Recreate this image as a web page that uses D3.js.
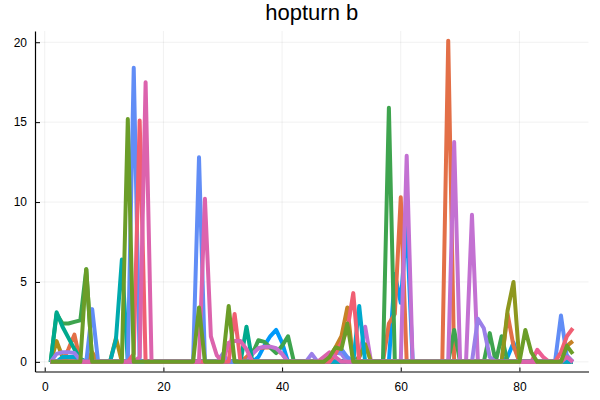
<!DOCTYPE html>
<html>
<head>
<meta charset="utf-8">
<script src="https://cdn.jsdelivr.net/npm/d3@7"></script>
<style>
  body { margin: 0; background: #fff; }
  svg { display: block; font-family: "Liberation Sans", Arial, sans-serif; }
</style>
</head>
<body>
<svg id="chart" width="600" height="400"></svg>
<script>
// x positions (1..89)
const xs = [1,2,3,4,5,6,7,8,9,10,11,12,13,14,15,16,17,18,19,20,21,22,23,24,25,26,27,28,29,30,
  31,32,33,34,35,36,37,38,39,40,41,42,43,44,45,46,47,48,49,50,51,52,53,54,55,56,57,58,59,60,
  61,62,63,64,65,66,67,68,69,70,71,72,73,74,75,76,77,78,79,80,81,82,83,84,85,86,87,88,89]

// one array per series (groups of 10 points)
const y1 = [0,0,0,0,0,0,0,0,0,0, 0,0,0,0,0,0,0,0,0,0, 0,0,0,0,0,0,0,0,0,0,
  0,0,0,0,0,0.3,1.0,1.6,2.0,1.2, 0,0,0,0,0,0,0,0,0,0, 0,0,0,0,0,0,0,0,5.5,3.7,
  8.7,0,0,0,0,0,0,0,0,0, 0,0,0,0,0,0,0,0.3,1.2,0, 0,0,0,0,0,0,0,0,0]
const y2 = [0,0,0,0.8,1.7,0,0,0,0,0, 0,0,0,0,0,0,0,0,0,0, 0,0,0,0,0,0,0,0,0,0,
  0,0,0,0.3,0.7,0.85,0.9,0.9,0.8,0.5, 0,0,0,0,0,0,0,0,0,0, 0,0,0,0,0,0,0,2.4,3.0,10.3,
  0,0,0,0,0,0,0,20.1,0,0, 0,0,0,0,0,0,0,3.0,1.0,0, 0,0,0,0,0,0,0,0,0]
const y3 = [0,3.0,2.4,2.4,2.5,2.6,5.8,0,0,0, 0,0,0,0,0,0,0,0,0,0, 0,0,0,0,0,0,0,0,0,0,
  0,0,0,0,0.5,1.35,1.25,0.9,0.55,1.0, 1.6,0,0,0,0,0,0,0,0,0, 0,0,0,0,0,0,0,15.9,0,0,
  0,0,0,0,0,0,0,0,2.0,0, 0,0,0,0,1.8,0,1.6,0,0,0, 0,0,0,0,0,0,0,0,0]
const y4 = [0,0,0,0,0,0,0,0,0,0, 0,0,0,0,0,0,0,0,0,0, 0,0,0,0,0,0,0,0,0,0,
  0,0,0,0,0.5,0.85,0.95,0.95,0.85,0.5, 0,0,0,0,0,0,0,0,0,0, 0,0,0.3,2.2,0,0,0,0,0,0,
  12.9,0,0,0,0,0,0,0,13.75,0, 0,9.2,0,0,0,0,0,0,0,0, 0,0,0,0,0,0,0,0,0]
const y5 = [0,1.3,0.3,0,0,0,0,0,0,0, 0,1.5,0,0,0,0,0,0,0,0, 0,0,0,0,0,0,0,0,0,0,
  0,0,0,0,0,0,0,0,0,0, 0,0,0,0,0,0,0,0,0,0, 0,0,0,0,0,0,0,0,0,0,
  0,0,0,0,0,0,0,0,0,0, 0,0,0,0,0,0,0,0,0,0, 0,0,0,0,0,0,0,0,0]
const y6 = [0,0,0,0,0,0,0,0,0,0, 0,1.4,6.4,0,0,0,0,0,0,0, 0,0,0,0,0,0,0,0,0,0,
  0,0,0,0,0,0,0,0,0,0, 0,0,0,0,0,0,0,0,0,0, 0,0,0,0,0,0,0,0,0,0,
  0,0,0,0,0,0,0,0,0,0, 0,0,0,0,0,0,0,0,0,0, 0,0,0,0,0,0,0,0,0]
const y7 = [0,0,0,0,0,0,0,0,0,0, 0,0,0,0,0,0,0,0,0,0, 0,0,0,0,0,0,0,0,0,0,
  0,0,0,0,0,0,0,0,0,0, 0,0,0,0,0,0,0,0,0,0, 0,0,0,0,0,0,0,0,0,0,
  0,0,0,0,0,0,0,0,0,0, 0,0,0,0,0,0,0,0,0,0, 0,0,0.75,0.3,0,0,0,0,0]
const y8 = [0,0,0,0,0,0,0,0.6,0,0, 0,0,0,0,0,0,0,0,0,0, 0,0,0,0,0,0,0,0,0,0,
  0,0,0,0,0,0,0,0,0,0, 0,0,0,0,0,0,0,0.3,0.9,1.6, 3.4,0,0,0,0,0,0,0,0,0,
  0,0,0,0,0,0,0,0,0,0, 0,0,0,0,0,0,0,0,0,0, 0,0,0,0,0,0,0,1.0,1.3]
const y9 = [0,3.1,2.2,1.5,0.8,0.2,0,0,0,0, 0,0,0,0,0,0,0,0,0,0, 0,0,0,0,0,0,0,0,0,0,
  0,0,0,2.2,0,0,0,0,0,0, 0,0,0,0,0,0,0,0,0,0, 0,0,0,0,0,0,0,0,0,0,
  0,0,0,0,0,0,0,0,0,0, 0,0,0,0,0,0,0,0,0,0, 0,0,0,0,0,0,0,0,0]
const y10 = [0,0,0,0,0,0,0,0,0,0, 0,0,0,0,0,0,0,0,0,0, 0,0,0,0,0,0,0,0,0,0,
  0,0,0,0,0,0,0,0,0,0, 0,0,0,0,0,0,0,0,0,0, 0,0,0.3,1.1,0,0,0,0,0,0,
  0,0,0,0,0,0,0,0,0,0, 0,0,0,0,0,0,0,3.2,5.0,0, 0,0,0,0,0,0,0,0,0]
const y11 = [0,0,0.3,0.3,0.3,0,0,0,0,0, 0,0,0,0,0,0,0,0,0,0, 0,0,0,0,0,0,0,0,0,0,
  0,0,0,0,0,0,0,0,0,0, 0,0,0,0,0,0,0,0,0,0, 0,0,3.5,0,0,0,0,0,0,0,
  0,0,0,0,0,0,0,0,0,0, 0,0,0,0,0,0,0,0,0,0, 0,0,0,0,0,0,0,0,0]
const y12 = [0,0.5,0.6,0.6,0.55,0.1,0,0,0,0, 0,0,0,0,0,0,0,0,0,0, 0,0,0,0,0,0,0,0,0,0.5,
  0,0,0,0,0,0,0,0,0,0, 0,0,0,0,0.5,0,0,0.3,0.6,0.5, 0,0,0,0,0,0,0,0,0,0,
  0,0,0,0,0,0,0,0,0,0, 0,0,2.7,2.1,0.3,0,0,0,0,0, 0,0,0,0,0,0,0,0.4,0]
const y13 = [0,0,0,0,0,0,0,3.3,0,0, 0,0,0,0,18.4,0,0,0,0,0, 0,0,0,0,0,12.8,0,0,0,0,
  0,0,0,0,0,0,0,0,0,0, 0,0,0,0,0,0,0,0,0.5,0.8, 0.3,0,0,0,0,0,0,0,0,0,
  0,0,0,0,0,0,0,0,0,0, 0,0,0,0,0,0,0,0,0,0, 0,0,0,0,0,0,2.9,0.3,0]
const y14 = [0,0,0,0,0,0,0,0,0,0, 0,0,0,0,0.5,15.1,0,0,0,0, 0,0,0,0,0,0,0,0,0,0,
  0,3.0,0,0,0,0,0,0,0,0, 0,0,0,0,0,0,0,0,0.5,1.2, 2.0,4.3,0,0,0,0,0,0,0,0,
  0,0,0,0,0,0,0,0,0,0, 0,0,0,0,0,0,0,0,0,0, 0,0,0,0,0,0,0.6,1.6,2.1]
const y15 = [0,0,0,0,0,0,0,0,0,0, 0,0,0,0,0,0.3,17.5,0,0,0, 0,0,0,0,0,0,10.2,1.6,0.4,0,
  1.2,1.3,1.3,0.8,0,0,0,0,0,0, 0,0,0,0,0,0,0.3,0.6,0.3,0, 0,0,0,0,0,0,0,0,0,0,
  0,0,0,0,0,0,0,0,0,0, 0,0,0,0,0,0,0,0,0,0, 0,0,0,0,0,0,0,0.3,0]
const y16 = [0,0,0,0,0,0,5.8,0,0,0, 0,0,0,15.2,0,0,0,0,0,0, 0,0,0,0,0,3.4,0,0,0,0,
  3.5,0,0,0,0,0,0,0,0,0, 0,0,0,0,0,0,0,0.3,0.9,0.8, 2.4,0,0,0,0,0,0,0,0,0,
  0,0,0,0,0,0,0,0,0,0, 0,0,0,0,0,0,0,0,0,0, 2.0,0.6,0,0,0,0,0,1.0,0.5]

const seriesValues = [y1, y2, y3, y4, y5, y6, y7, y8, y9, y10, y11, y12, y13, y14, y15, y16]
const colors = ["#009AFA", "#E36F47", "#3EA44E", "#C371D2", "#AC8E18", "#00AAAE", "#ED5E93", "#C68225",
  "#00A98D", "#8E971E", "#00A9CD", "#9B7FE9", "#618DF6", "#F05F73", "#DC63AD", "#6B9D28"]
const xTicks = [0, 20, 40, 60, 80]
const yTicks = [0, 5, 10, 15, 20]
const title = "hopturn b"

const svg = d3.select("#chart")

// axis limits padded 3% like the original
const xExt = d3.extent(xs)
const xPad = (xExt[1] - xExt[0]) * 0.03
const yMax = d3.max(seriesValues, s => d3.max(s))
const yMin = d3.min(seriesValues, s => d3.min(s))
const yPad = (yMax - yMin) * 0.03

const x = d3.scaleLinear()
  .domain([xExt[0] - xPad, xExt[1] + xPad])
  .range([35, 588.5])
const y = d3.scaleLinear()
  .domain([yMin - yPad, yMax + yPad])
  .range([371.5, 31])

// grid
svg.append("g")
  .selectAll("line")
  .data(xTicks)
  .join("line")
  .attr("x1", d => x(d)).attr("x2", d => x(d))
  .attr("y1", y.range()[0]).attr("y2", y.range()[1])
  .attr("stroke", "#000").attr("stroke-opacity", 0.1).attr("stroke-width", 0.6)
svg.append("g")
  .selectAll("line")
  .data(yTicks)
  .join("line")
  .attr("x1", x.range()[0]).attr("x2", x.range()[1])
  .attr("y1", d => y(d)).attr("y2", d => y(d))
  .attr("stroke", "#000").attr("stroke-opacity", 0.1).attr("stroke-width", 0.6)

// lines
const line = d3.line()
  .x((d, i) => x(xs[i]))
  .y(d => y(d))

svg.append("g")
  .selectAll("path")
  .data(seriesValues)
  .join("path")
  .attr("d", line)
  .attr("fill", "none")
  .attr("stroke", (d, i) => colors[i])
  .attr("stroke-width", 4)
  .attr("stroke-linejoin", "round")

// axes
const xAxis = d3.axisBottom(x).tickValues(xTicks).tickSizeInner(-4).tickSizeOuter(0).tickPadding(11)
svg.append("g")
  .attr("transform", `translate(0,${y.range()[0]})`)
  .call(xAxis)
  .call(g => g.select(".domain").attr("stroke-width", 1.2))
  .call(g => g.selectAll("text").attr("font-size", 12).attr("font-family", null).attr("fill", "#000"))

const yAxis = d3.axisLeft(y).tickValues(yTicks).tickSizeInner(-5).tickSizeOuter(0).tickPadding(8)
svg.append("g")
  .attr("transform", `translate(${x.range()[0]},0)`)
  .call(yAxis)
  .call(g => g.select(".domain").attr("stroke-width", 1.2))
  .call(g => g.selectAll("text").attr("font-size", 12).attr("font-family", null).attr("fill", "#000"))

// title
svg.append("text")
  .attr("x", (x.range()[0] + x.range()[1]) / 2)
  .attr("y", 20)
  .attr("text-anchor", "middle")
  .attr("font-size", 22)
  .attr("fill", "#000")
  .text(title)
</script>
</body>
</html>
